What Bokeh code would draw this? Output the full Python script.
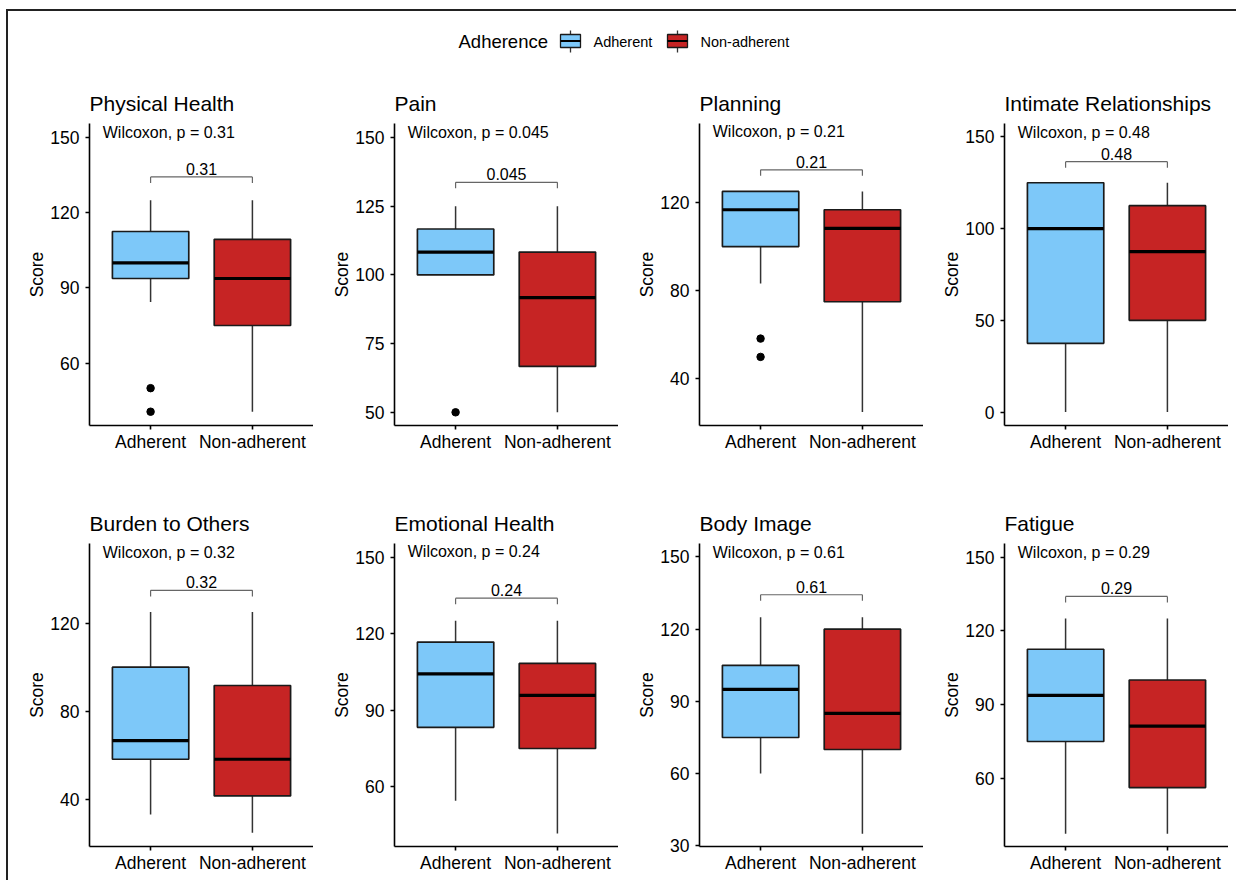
from bokeh.plotting import figure
from bokeh.layouts import column, row
from bokeh.models import Range1d, FixedTicker
from bokeh.embed import file_html
from bokeh.resources import INLINE

# ---------------- data ----------------
groups = ["Adherent", "Non-adherent"]
domains = ["Physical Health", "Pain", "Planning", "Intimate Relationships",
           "Burden to Others", "Emotional Health", "Body Image", "Fatigue"]
p_values = ["0.31", "0.045", "0.21", "0.48", "0.32", "0.24", "0.61", "0.29"]

adh_lower = [84.4, 100, 83.3, 0, 33.3, 54.5, 60, 37.5]
adh_q1 = [93.75, 100, 100, 37.5, 58.3, 83.3, 75, 75]
adh_median = [100, 108.3, 116.7, 100, 66.7, 104.2, 95, 93.75]
adh_q3 = [112.5, 116.7, 125, 125, 100, 116.7, 105, 112.5]
adh_upper = [125, 125, 125, 125, 125, 125, 125, 125]
adh_outliers = [[50, 40.6], [50], [58.3, 50], [], [], [], [], []]

non_lower = [40.6, 50, 25, 0, 25, 41.7, 35, 37.5]
non_q1 = [75, 66.7, 75, 50, 41.7, 75, 70, 56.25]
non_median = [93.75, 91.7, 108.3, 87.5, 58.3, 95.8, 85, 81.25]
non_q3 = [109.4, 108.3, 116.7, 112.5, 91.7, 108.3, 120, 100]
non_upper = [125, 125, 125, 125, 125, 125, 125, 125]
non_outliers = [[], [], [], [], [], [], [], []]

y_lo = [35.1, 45.2, 18.9, -7.3, 18.8, 36.6, 29.7, 32.3]
y_hi = [155.6, 155.1, 155.8, 157.3, 156.0, 155.3, 155.6, 155.5]
y_ticks = [[60, 90, 120, 150], [50, 75, 100, 125, 150], [40, 80, 120],
           [0, 50, 100, 150], [40, 80, 120], [60, 90, 120, 150],
           [30, 60, 90, 120, 150], [60, 90, 120, 150]]
bracket_y = [134.3, 133.7, 134.8, 136.5, 134.8, 133.9, 134.3, 134.0]
wilcox_y = [152, 152, 152, 152.3, 152, 152, 152, 152]

colors = ["#7DC8F9", "#C62424"]
FONT = "Liberation Sans"


def make_panel(i, height, bottom):
    p = figure(width=305, height=height, x_range=Range1d(0.4, 2.6),
               y_range=Range1d(y_lo[i], y_hi[i]), output_backend="svg",
               toolbar_location=None, min_border_left=81, min_border_right=0,
               min_border_top=53, min_border_bottom=bottom)
    p.title.text = domains[i]
    p.title.text_font = FONT
    p.title.text_font_size = "21px"
    p.title.text_font_style = "normal"
    p.title.text_color = "#000000"
    p.title.align = "left"
    p.title.standoff = 17
    p.outline_line_color = None
    p.xgrid.visible = False
    p.ygrid.visible = False

    for ax in (p.xaxis, p.yaxis):
        ax.axis_line_width = 1.6
        ax.axis_line_color = "#000000"
        ax.major_tick_line_width = 1.6
        ax.major_tick_line_color = "#000000"
        ax.major_tick_out = 4
        ax.major_tick_in = 0
        ax.minor_tick_line_color = None
        ax.major_label_text_font = FONT
        ax.major_label_text_font_size = "17.5px"
        ax.major_label_text_color = "#000000"

    xs = [k + 1 for k in range(len(groups))]
    p.xaxis.ticker = FixedTicker(ticks=xs)
    p.xaxis.major_label_overrides = {x: g for x, g in zip(xs, groups)}
    p.xaxis.major_label_standoff = 2
    p.yaxis.ticker = FixedTicker(ticks=y_ticks[i])
    p.yaxis.axis_label = "Score"
    p.yaxis.axis_label_text_font = FONT
    p.yaxis.axis_label_text_font_size = "17.5px"
    p.yaxis.axis_label_text_font_style = "normal"
    p.yaxis.axis_label_text_color = "#000000"
    p.yaxis.axis_label_standoff = 0
    p.yaxis.major_label_standoff = 6

    lower = [adh_lower[i], non_lower[i]]
    q1 = [adh_q1[i], non_q1[i]]
    med = [adh_median[i], non_median[i]]
    q3 = [adh_q3[i], non_q3[i]]
    upper = [adh_upper[i], non_upper[i]]
    outs = [adh_outliers[i], non_outliers[i]]
    bw = 0.75

    # whiskers
    p.segment(x0=xs, y0=q3, x1=xs, y1=upper, line_color="#333333", line_width=1.5)
    p.segment(x0=xs, y0=q1, x1=xs, y1=lower, line_color="#333333", line_width=1.5)
    # boxes
    p.vbar(x=xs, width=bw, top=q3, bottom=q1, fill_color=colors,
           line_color="#1a1a1a", line_width=1.7)
    # medians
    p.segment(x0=[x - bw / 2 for x in xs], y0=med, x1=[x + bw / 2 for x in xs], y1=med,
              line_color="#000000", line_width=3.2)
    # outliers
    ox, oy = [], []
    for x, o in zip(xs, outs):
        for v in o:
            ox.append(x)
            oy.append(v)
    if ox:
        p.scatter(x=ox, y=oy, size=7.5, fill_color="#000000", line_color="#000000")

    # bracket
    tip = 0.02 * (y_hi[i] - y_lo[i])
    by = bracket_y[i]
    p.segment(x0=[xs[0], xs[0], xs[1]], y0=[by, by, by],
              x1=[xs[1], xs[0], xs[1]], y1=[by, by - tip, by - tip],
              line_color="#666666", line_width=1.2)
    p.text(x=[(xs[0] + xs[1]) / 2], y=[by], text=[p_values[i]],
           text_align="center", text_baseline="bottom", y_offset=-2,
           text_font={"value": FONT}, text_font_size={"value": "16px"},
           text_color="#000000")
    p.text(x=[0.53], y=[wilcox_y[i]], text=["Wilcoxon, p = " + p_values[i]],
           text_align="left", text_baseline="middle",
           text_font={"value": FONT}, text_font_size={"value": "16px"},
           text_color="#000000")
    return p


# ---------------- legend ----------------
leg = figure(width=1228, height=59, x_range=Range1d(0, 1228), y_range=Range1d(59, 0),
             output_backend="svg", toolbar_location=None,
             min_border=0, min_border_left=0, min_border_right=0,
             min_border_top=0, min_border_bottom=0)
leg.axis.visible = False
leg.grid.visible = False
leg.outline_line_color = None
leg.text(x=[450], y=[30], text=["Adherence"], text_align="left", text_baseline="middle",
         text_font={"value": FONT}, text_font_size={"value": "18.5px"}, text_color="#000000")
key_x = [562, 669]
lab_x = [585, 692]
for kx, lx, c, g in zip(key_x, lab_x, colors, groups):
    leg.segment(x0=[kx, kx], y0=[19, 36], x1=[kx, kx], y1=[23, 41],
                line_color="#333333", line_width=1.3)
    leg.quad(left=[kx - 10], right=[kx + 10], top=[23], bottom=[36],
             fill_color=c, line_color="#1a1a1a", line_width=1.3)
    leg.segment(x0=[kx - 10], y0=[29.5], x1=[kx + 10], y1=[29.5],
                line_color="#000000", line_width=2.2)
    leg.text(x=[lx], y=[30], text=[g], text_align="left", text_baseline="middle",
             text_font={"value": FONT}, text_font_size={"value": "14.5px"},
             text_color="#000000")

row1 = row(*[make_panel(i, 420, 65) for i in range(4)])
row2 = row(*[make_panel(i, 390, 34) for i in range(4, 8)])
layout = column(leg, row1, row2, margin=(9, 0, 0, 6),
                styles={"border-top": "2px solid #222222",
                        "border-left": "2px solid #222222"})

open("out.html", "w").write(file_html(layout, INLINE))
